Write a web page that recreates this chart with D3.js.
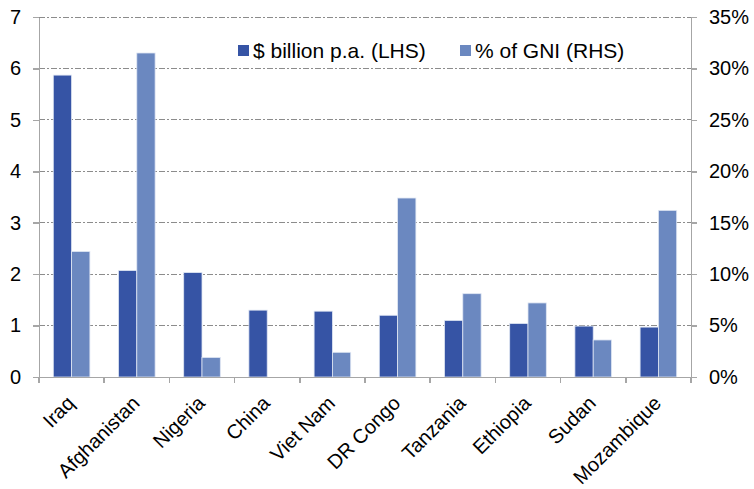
<!DOCTYPE html>
<meta charset="utf-8">
<head>
<style>
  body { margin: 0; background: #fff; }
  svg { font-family: "Liberation Sans", Arial, sans-serif; }
  .axis path, .axis line { stroke: #a6a6a6; stroke-width: 1.5px; shape-rendering: crispEdges; }
  .axis text { fill: #000; font-size: 20px; }
  .grid line { stroke: #8c8c8c; stroke-width: 1px; stroke-dasharray: 6,2,2,2; shape-rendering: crispEdges; }
  .bar { stroke: #dfe6f3; stroke-width: 0.8px; }
  .legend text { font-size: 21px; }
</style>
</head>
<body>
<svg width="754" height="489"></svg>
<script src="https://cdn.jsdelivr.net/npm/d3@7"></script>
<script>

var countries = ["Iraq", "Afghanistan", "Nigeria", "China", "Viet Nam", "DR Congo", "Tanzania", "Ethiopia", "Sudan", "Mozambique"];
var billions = [5.87, 2.07, 2.03, 1.30, 1.28, 1.20, 1.10, 1.04, 0.99, 0.97];
var pctGni = [12.2, 31.5, 1.9, 0, 2.4, 17.4, 8.1, 7.2, 3.6, 16.2];
var leftTicks = [0, 1, 2, 3, 4, 5, 6, 7];
var rightTicks = [0, 5, 10, 15, 20, 25, 30, 35];
var seriesNames = ["$ billion p.a. (LHS)", "% of GNI (RHS)"];
var colors = ["#3654a5", "#6b88c0"];

var svg = d3.select("svg"),
    margin = {top: 17, right: 63, bottom: 112, left: 39},
    width = +svg.attr("width") - margin.left - margin.right,
    height = +svg.attr("height") - margin.top - margin.bottom;

var x = d3.scaleBand().domain(countries).range([0, width]);
var yL = d3.scaleLinear().domain([0, 7]).range([height, 0]);
var yR = d3.scaleLinear().domain([0, 35]).range([height, 0]);

var g = svg.append("g")
    .attr("transform", "translate(" + margin.left + "," + margin.top + ")");

// gridlines
g.append("g")
    .attr("class", "grid")
    .selectAll("line")
    .data(leftTicks.slice(1))
    .enter().append("line")
    .attr("x1", 0)
    .attr("x2", width)
    .attr("y1", function(d) { return yL(d); })
    .attr("y2", function(d) { return yL(d); });

var groupPad = 14.3;
var barW = (x.bandwidth() - 2 * groupPad) / 2;

var data = countries.map(function(c, i) { return {c: c, b: billions[i], p: pctGni[i]}; });

g.selectAll(".bar-b")
    .data(data)
    .enter().append("rect")
    .attr("class", "bar")
    .attr("fill", colors[0])
    .attr("x", function(d) { return x(d.c) + groupPad; })
    .attr("width", barW)
    .attr("y", function(d) { return yL(d.b); })
    .attr("height", function(d) { return height - yL(d.b); });

g.selectAll(".bar-p")
    .data(data.filter(function(d) { return d.p > 0; }))
    .enter().append("rect")
    .attr("class", "bar")
    .attr("fill", colors[1])
    .attr("x", function(d) { return x(d.c) + groupPad + barW; })
    .attr("width", barW)
    .attr("y", function(d) { return yR(d.p); })
    .attr("height", function(d) { return height - yR(d.p); });

// axes
var xAxis = g.append("g")
    .attr("class", "axis")
    .attr("transform", "translate(0," + height + ")")
    .call(d3.axisBottom(x).tickSize(0).tickSizeOuter(0));

xAxis.selectAll(".tick text")
    .attr("text-anchor", "end")
    .attr("y", 0)
    .attr("dy", 0)
    .attr("transform", "translate(4,27.5) rotate(-45)");

// category dividers below axis
xAxis.selectAll(".divider")
    .data(d3.range(countries.length + 1))
    .enter().append("line")
    .attr("x1", function(i) { return i * x.step(); })
    .attr("x2", function(i) { return i * x.step(); })
    .attr("y1", 0)
    .attr("y2", 6);

g.append("g")
    .attr("class", "axis")
    .call(d3.axisLeft(yL).tickValues(leftTicks).tickSize(6).tickSizeOuter(0).tickFormat(d3.format("d")))
    .selectAll("text").attr("dx", "-9px");

g.append("g")
    .attr("class", "axis")
    .attr("transform", "translate(" + width + ",0)")
    .call(d3.axisRight(yR).tickValues(rightTicks).tickSize(6).tickSizeOuter(0).tickFormat(function(d) { return d + "%"; }))
    .selectAll("text").attr("dx", "9px");

// legend
var legend = svg.append("g").attr("class", "legend");
var legendX = [238, 460];
seriesNames.forEach(function(name, i) {
  legend.append("rect")
      .attr("x", legendX[i])
      .attr("y", 45)
      .attr("width", 11)
      .attr("height", 11)
      .attr("fill", colors[i]);
  legend.append("text")
      .attr("x", legendX[i] + 15)
      .attr("y", 58)
      .text(name);
});

</script>
</body>
</html>
